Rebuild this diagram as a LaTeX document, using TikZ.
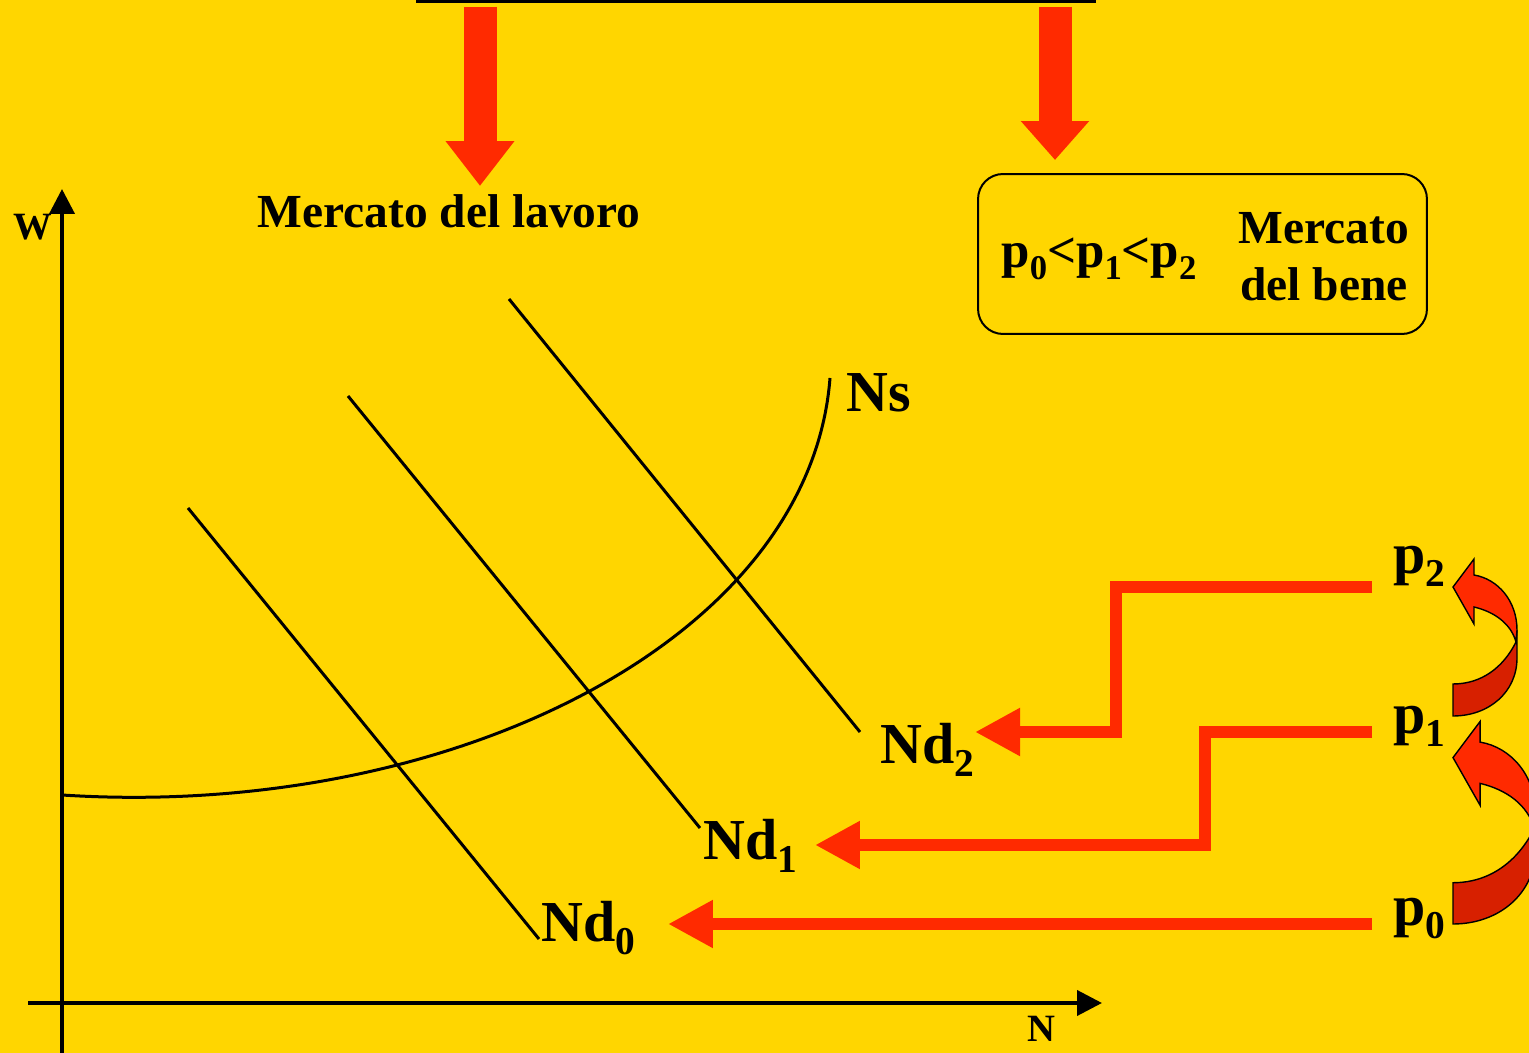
\documentclass[tikz,border=0pt]{standalone}
\usepackage{fontspec}
\setmainfont{Liberation Serif}
\usepackage{graphicx}
\usetikzlibrary{arrows.meta, positioning, calc}

\definecolor{gold}{RGB}{255,214,0}
\definecolor{arrred}{RGB}{255,42,0}
\definecolor{backred}{RGB}{215,32,0}

% lowered index as the slide sets it
\newcommand{\idx}[1]{\raisebox{-0.22em}{\scalebox{0.68}{#1}}}

% curved arrow from one price to the next, in local pixel units
\newcommand{\stepup}[1]{%
  \begin{scope}[#1]
    \filldraw[fill=backred, draw=black, line width=0.8pt]
      (0,0) .. controls (36,0) and (64,-24) .. (64,-58) -- (64,-86) -- (63,-74)
      .. controls (50,-48) and (28,-32) .. (0,-32) -- cycle;
    \filldraw[fill=arrred, draw=black, line width=0.8pt]
      (64,-86) .. controls (64,-115) and (45,-137) .. (21,-141) -- (21,-157) -- (0,-129)
      -- (21,-92) -- (21,-109) .. controls (42,-104) and (58,-92) .. (63,-74) -- cycle;
  \end{scope}}

\begin{document}
\begin{tikzpicture}[x=0.02cm, y=-0.02cm,
  lab/.style={font=\fontsize{33}{36}\selectfont\bfseries, inner sep=0pt},
  ttl/.style={font=\fontsize{27}{32}\selectfont\bfseries, inner sep=0pt},
  axlab/.style={font=\fontsize{22}{26}\selectfont\bfseries, inner sep=0pt},
  axis/.style={line width=0.08cm, -{Triangle[length=0.5cm, width=0.5cm]}},
  curve/.style={line width=0.06cm},
  redarr/.style={draw=arrred, line width=0.24cm, -{Triangle[length=0.9cm, width=0.9cm]}},
  bigarr/.style={draw=arrred, line width=0.66cm, shorten <=0.08cm}]
  \useasboundingbox (0,0) rectangle (1529,1053);
  \clip (0,0) rectangle (1529,1053);
  \fill[gold] (0,0) rectangle (1529,1053);

  % ---- box at the top, only its lower edge shows
  \node[draw, line width=0.06cm, minimum width=13.56cm, minimum height=2cm, anchor=south] (topbox) at (756,3) {};

  % ---- labour market
  \node[ttl, anchor=base] (lavoro) at (449,228) {Mercato del lavoro};
  \coordinate (tipL) at (480,186);
  \draw[bigarr, -{Triangle[length=0.9cm, width=1.32cm]}] (topbox.south -| tipL) -- (tipL);

  % ---- goods market
  \node[draw, line width=0.04cm, rounded corners=0.5cm, minimum width=8.98cm, minimum height=3.2cm] (benebox) at (1202.5,254) {};
  \node[ttl, anchor=base, font=\fontsize{29}{32}\selectfont\bfseries] (prices) at (1099,268) {p\idx{0}<p\idx{1}<p\idx{2}};
  \node[ttl, align=center, font=\fontsize{27}{57\dimexpr0.02cm\relax}\selectfont\bfseries] (bene) at (1324,257) {Mercato\\del bene};
  \coordinate (tipR) at (1055,160);
  \draw[bigarr, -{Triangle[length=0.78cm, width=1.32cm]}] (topbox.south -| tipR) -- (tipR);

  % ---- axes
  \coordinate (ybot) at (62,1053);
  \coordinate (ytop) at (62,189);
  \coordinate (xleft) at (28,1003);
  \coordinate (xright) at (1102,1003);
  \draw[axis] (ybot) -- (ytop);
  \draw[axis] (xleft) -- (xright);
  \node[axlab, anchor=base] (wlab) at (33,240) {W};
  \node[axlab, anchor=base] (nlab) at (1041,1041) {N};

  % ---- labour supply
  \coordinate (sa) at (62,795);
  \coordinate (sb) at (830,378);
  \draw[curve] (sa) .. controls (450,820) and (810,640) .. (sb);
  \node[lab, anchor=base west] (ns) at (846,412) {Ns};

  % ---- labour demand for the three prices
  \coordinate (d0a) at (188,508);  \coordinate (d0b) at (539,939);
  \coordinate (d1a) at (348,396);  \coordinate (d1b) at (700,828);
  \coordinate (d2a) at (509,299);  \coordinate (d2b) at (860,732);
  \draw[curve] (d0a) -- (d0b);
  \draw[curve] (d1a) -- (d1b);
  \draw[curve] (d2a) -- (d2b);
  \node[lab, anchor=base west] (nd0) at (541,942) {Nd\idx{0}};
  \node[lab, anchor=base west] (nd1) at (703,860) {Nd\idx{1}};
  \node[lab, anchor=base west] (nd2) at (880,764) {Nd\idx{2}};

  % ---- prices and their shift of the demand
  \node[lab, anchor=base west] (p0) at (1393,926) {p\idx{0}};
  \node[lab, anchor=base west] (p1) at (1393,734) {p\idx{1}};
  \node[lab, anchor=base west] (p2) at (1393,574) {p\idx{2}};
  \coordinate (s0) at (1372,924);  \coordinate (t0) at (668,924);
  \coordinate (s1) at (1372,732);  \coordinate (b1) at (1205,845);  \coordinate (t1) at (815,845);
  \coordinate (s2) at (1372,587);  \coordinate (b2) at (1116,732);  \coordinate (t2) at (975,732);
  \draw[redarr] (s0) -- (t0);
  \draw[redarr] (s1) -| (b1) -- (t1);
  \draw[redarr] (s2) -| (b2) -- (t2);

  \stepup{shift={(1453,716)}}
  \stepup{shift={(1453,924)}, scale=1.29}
\end{tikzpicture}
\end{document}
